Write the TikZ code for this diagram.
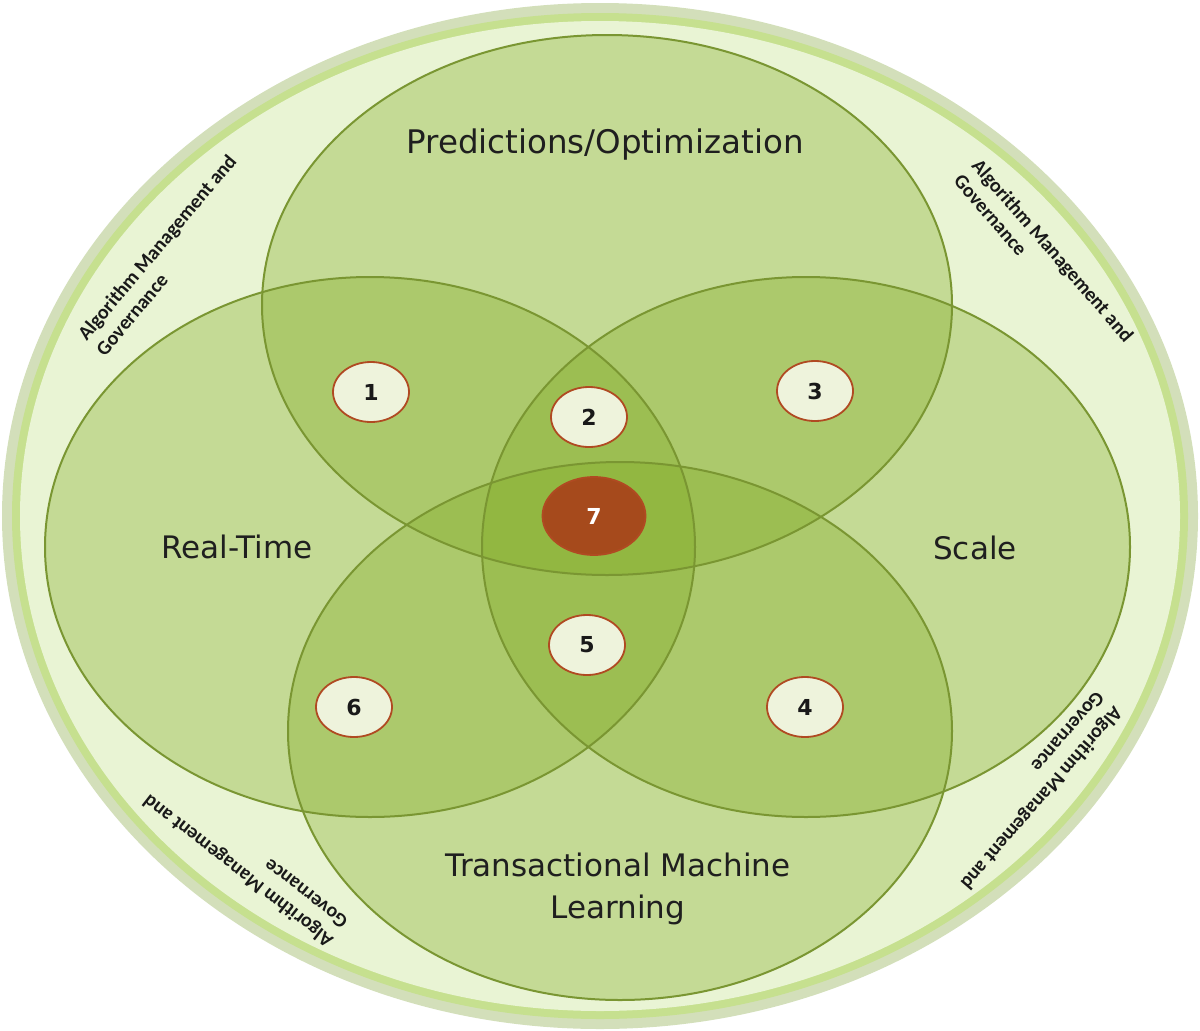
\documentclass[tikz,border=0pt]{standalone}
\usepackage{fontspec}
\setmainfont{DejaVu Sans}
\newfontfamily\cornerfont{Carlito}
\usetikzlibrary{shapes.geometric}
\definecolor{ringgray}{HTML}{D3DFBA}
\definecolor{ringgreen}{HTML}{C6E08F}
\definecolor{ringpale}{HTML}{E9F4D4}
\definecolor{vennfill}{RGB}{128,172,34}
\definecolor{vennedge}{RGB}{122,150,50}
\definecolor{numedge}{HTML}{B04A22}
\definecolor{numfill}{HTML}{EEF3DC}
\definecolor{centerfill}{HTML}{A64A1C}

\begin{document}
\begin{tikzpicture}
	[x=1pt, y=-1pt,
	 ring/.style={ellipse, inner sep=0pt},
	 venn/.style={ellipse, inner sep=0pt, fill=vennfill, fill opacity=0.35},
	 vennline/.style={ellipse, inner sep=0pt, draw=vennedge, line width=2pt},
	 num/.style={ellipse, draw=numedge, fill=numfill, line width=1.8pt, minimum width=76pt, minimum height=60pt, text=black!90, font=\fontsize{22}{26}\selectfont\bfseries},
	 title/.style={text=black!88, font=\fontsize{31}{42}\selectfont, align=center},
	 corner/.style={text=black!90, align=left, font=\cornerfont\bfseries\fontsize{20}{24}\selectfont}]
	\useasboundingbox (0,0) rectangle (1200,1031);
	% outer rings
	\node[ring, fill=ringgray, minimum width=1196pt, minimum height=1026pt] (outer) at (600,516) {};
	\node[ring, fill=ringgreen, minimum width=1176pt, minimum height=1006pt] (middle) at (600,516) {};
	\node[ring, fill=ringpale, minimum width=1160pt, minimum height=990pt] (inner) at (600,516) {};
	% the four sets
	\node[venn, minimum width=690pt, minimum height=540pt] (pred) at (607,305) {};
	\node[venn, minimum width=650pt, minimum height=540pt] (rt) at (370,547) {};
	\node[venn, minimum width=648pt, minimum height=540pt] (sc) at (806,547) {};
	\node[venn, minimum width=664pt, minimum height=538pt] (tml) at (620,731) {};
	\foreach \w/\h/\p in {690/540/pred, 650/540/rt, 648/540/sc, 664/538/tml}
		\node[vennline, minimum width=\w pt, minimum height=\h pt] at (\p.center) {};
	% set labels
	\node[title, font=\fontsize{32.5}{42}\selectfont] (predlabel) at (605,145) {Predictions/Optimization};
	\node[title] (rtlabel) at (237,547) {Real-Time};
	\node[title] (sclabel) at (975,548) {Scale};
	\node[title] (tmllabel) at (618,889) {Transactional Machine\\Learning};
	% numbered areas
	\node[num] (n1) at (371,392) {1};
	\node[num] (n2) at (589,417) {2};
	\node[num] (n3) at (815,391) {3};
	\node[num] (n4) at (805,707) {4};
	\node[num] (n5) at (587,645) {5};
	\node[num] (n6) at (354,707) {6};
	\node[num, fill=centerfill, text=white, minimum width=103pt, minimum height=78pt] (n7) at (594,516) {7};
	% governance ring texts
	\node[corner, rotate=50] (govtl) at (166,255) {Algorithm Management and\\Governance};
	\node[corner, rotate=-49] (govtr) at (1044,258) {Algorithm Management and\\Governance};
	\node[corner, rotate=-131] (govbr) at (1033,791) {Algorithm Management and\\Governance};
	\node[corner, rotate=142] (govbl) at (245,862) {Algorithm Management and\\Governance};
\end{tikzpicture}
\end{document}
